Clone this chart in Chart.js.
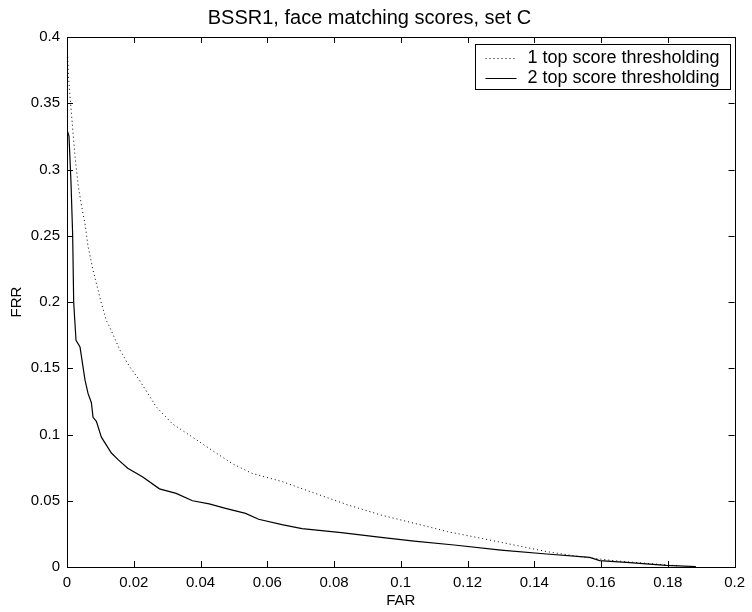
<!DOCTYPE html>
<html>
<head>
<meta charset="utf-8">
<script src="https://cdn.jsdelivr.net/npm/chart.js@4.4.1/dist/chart.umd.min.js"></script>
<style>
  html, body { margin: 0; padding: 0; background: #fff; }
  canvas { display: block; }
</style>
</head>
<body>
<canvas id="detChart" width="752" height="612"></canvas>
<script>
// FAR / FRR values
const farTop1 = [0.0002, 0.0004, 0.0009, 0.0014, 0.0019, 0.0024, 0.0034, 0.0044, 0.0054, 0.0063, 0.0078, 0.0093, 0.0103, 0.0118, 0.0128, 0.0158, 0.0188, 0.0217, 0.0267, 0.0316, 0.0376, 0.0435, 0.0495, 0.0554, 0.0644, 0.0743, 0.0842, 0.0941, 0.104, 0.114, 0.124, 0.134, 0.1437, 0.1537, 0.1636, 0.1735, 0.1834];
const frrTop1 = [0.385, 0.372, 0.355, 0.34, 0.325, 0.31, 0.287, 0.272, 0.259, 0.242, 0.224, 0.209, 0.199, 0.186, 0.181, 0.164, 0.151, 0.141, 0.121, 0.108, 0.098, 0.088, 0.078, 0.0707, 0.0645, 0.0556, 0.0468, 0.0392, 0.033, 0.0267, 0.0217, 0.0166, 0.0116, 0.0078, 0.0048, 0.0028, 0.0008];

const farTop2 = [0, 0.0006, 0.0012, 0.0017, 0.002, 0.0027, 0.0039, 0.0054, 0.0063, 0.0073, 0.0078, 0.0088, 0.0103, 0.0133, 0.0153, 0.0182, 0.0227, 0.0277, 0.0327, 0.0376, 0.0426, 0.0475, 0.0535, 0.0574, 0.0644, 0.0704, 0.0822, 0.0941, 0.104, 0.116, 0.130, 0.1437, 0.1566, 0.1596, 0.1686, 0.1795, 0.1884];
const frrTop2 = [0.33, 0.325, 0.29, 0.25, 0.2, 0.171, 0.166, 0.141, 0.131, 0.124, 0.113, 0.110, 0.098, 0.086, 0.081, 0.0745, 0.068, 0.059, 0.0556, 0.050, 0.0476, 0.0443, 0.0405, 0.036, 0.032, 0.029, 0.026, 0.0224, 0.0196, 0.0166, 0.0128, 0.0098, 0.0073, 0.0048, 0.0033, 0.0013, 0.0003];

const seriesNames = ["1 top score thresholding", "2 top score thresholding"];
const xTicks = [0, 0.02, 0.04, 0.06, 0.08, 0.1, 0.12, 0.14, 0.16, 0.18, 0.2];
const xTickLabels = ["0", "0.02", "0.04", "0.06", "0.08", "0.1", "0.12", "0.14", "0.16", "0.18", "0.2"];
const yTicks = [0, 0.05, 0.1, 0.15, 0.2, 0.25, 0.3, 0.35, 0.4];
const yTickLabels = ["0", "0.05", "0.1", "0.15", "0.2", "0.25", "0.3", "0.35", "0.4"];

const FONT = "'Liberation Sans', Arial, Helvetica, sans-serif";

function toPoints(xs, ys) {
    return xs.map((x, i) => ({ x: x, y: ys[i] }));
}

// box around the axes with inward ticks on all four sides
const framePlugin = {
    id: "frame",
    afterDraw(chart) {
        const { ctx, chartArea: a, scales } = chart;
        const len = 6;
        ctx.save();
        ctx.strokeStyle = "#000";
        ctx.lineWidth = 1;
        ctx.beginPath();
        xTicks.forEach(v => {
            const px = Math.round(scales.x.getPixelForValue(v)) + 0.5;
            ctx.moveTo(px, a.bottom); ctx.lineTo(px, a.bottom - len);
            ctx.moveTo(px, a.top); ctx.lineTo(px, a.top + len);
        });
        yTicks.forEach(v => {
            const py = Math.round(scales.y.getPixelForValue(v)) + 0.5;
            ctx.moveTo(a.left, py); ctx.lineTo(a.left + len, py);
            ctx.moveTo(a.right, py); ctx.lineTo(a.right - len, py);
        });
        ctx.stroke();
        ctx.strokeRect(Math.round(a.left) + 0.5, Math.round(a.top) + 0.5,
            Math.round(a.right - a.left), Math.round(a.bottom - a.top));

        // legend box, top right inside the axes
        const boxW = 255, boxH = 45;
        const bx = Math.round(a.right - 5 - boxW) + 0.5;
        const by = Math.round(a.top + 7) + 0.5;
        ctx.fillStyle = "#fff";
        ctx.fillRect(bx, by, boxW, boxH);
        ctx.strokeRect(bx, by, boxW, boxH);
        ctx.font = "18px " + FONT;
        ctx.textBaseline = "middle";
        ctx.fillStyle = "#000";
        chart.data.datasets.forEach((ds, i) => {
            const ry = by + 14 + i * 20;
            ctx.save();
            ctx.setLineDash(ds.borderDash || []);
            ctx.beginPath();
            ctx.moveTo(bx + 10, ry);
            ctx.lineTo(bx + 41, ry);
            ctx.stroke();
            ctx.restore();
            ctx.fillText(ds.label, bx + 52, ry);
        });
        ctx.restore();
    }
};

const canvas = document.getElementById("detChart");

new Chart(canvas, {
    type: "scatter",
    data: {
        datasets: [
            {
                label: seriesNames[0],
                data: toPoints(farTop1, frrTop1),
                showLine: true,
                borderColor: "#000",
                borderWidth: 1,
                borderDash: [1, 3],
                pointRadius: 0,
                tension: 0,
            },
            {
                label: seriesNames[1],
                data: toPoints(farTop2, frrTop2),
                showLine: true,
                borderColor: "#000",
                borderWidth: 1.2,
                pointRadius: 0,
                tension: 0,
            },
        ],
    },
    options: {
        responsive: false,
        animation: false,
        layout: { padding: { left: 0, right: 13, top: 0, bottom: 0 } },
        plugins: {
            legend: { display: false },
            tooltip: { enabled: false },
            title: {
                display: true,
                text: "BSSR1, face matching scores, set C",
                color: "#000",
                font: { family: FONT, size: 20, weight: "normal" },
                padding: { top: 6, bottom: 7 },
            },
        },
        scales: {
            x: {
                type: "linear",
                min: 0,
                max: 0.2,
                grid: { display: false, drawTicks: false },
                border: { display: false },
                afterBuildTicks: s => { s.ticks = xTicks.map(v => ({ value: v })); },
                afterFit: s => { s.height = 45; },
                ticks: {
                    color: "#000",
                    padding: 7,
                    maxRotation: 0,
                    font: { family: FONT, size: 15 },
                    callback: (v, i) => xTickLabels[i],
                },
                title: {
                    display: true,
                    text: "FAR",
                    color: "#000",
                    font: { family: FONT, size: 15 },
                    padding: { top: 0, bottom: 2 },
                },
            },
            y: {
                type: "linear",
                min: 0,
                max: 0.4,
                grid: { display: false, drawTicks: false },
                border: { display: false },
                afterBuildTicks: s => { s.ticks = yTicks.map(v => ({ value: v })); },
                afterFit: s => { s.width = 67; },
                ticks: {
                    color: "#000",
                    padding: 7,
                    font: { family: FONT, size: 15 },
                    callback: (v, i) => yTickLabels[i],
                },
                title: {
                    display: true,
                    text: "FRR",
                    color: "#000",
                    font: { family: FONT, size: 15 },
                    padding: { top: 8, bottom: 0 },
                },
            },
        },
    },
    plugins: [framePlugin],
});
</script>
</body>
</html>
